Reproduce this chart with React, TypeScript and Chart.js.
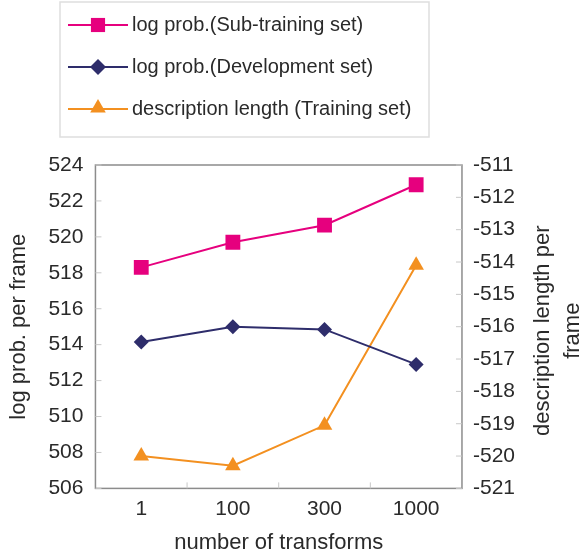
import { useEffect, useRef } from "react"
import { Chart, registerables } from "chart.js"

Chart.register(...registerables)

const transforms = ["1", "100", "300", "1000"]
const subTraining = [518.3, 519.7, 520.65, 522.9]
const development = [514.15, 515.0, 514.85, 512.9]
const descLength = [-520.0, -520.3, -519.05, -514.1]

const FONT = "'Liberation Sans', Arial, sans-serif"
const TEXT = "#2a2a2a"

const legendItems = [
  { label: "log prob.(Sub-training set)", color: "#e6007e", style: "rect", r: 10 },
  { label: "log prob.(Development set)", color: "#2e2d6b", style: "rectRot", r: 8 },
  { label: "description length (Training set)", color: "#f39020", style: "triangle", r: 9 },
]

function drawMarker(ctx: CanvasRenderingContext2D, style: string, x: number, y: number, r: number, color: string) {
  ctx.save()
  ctx.fillStyle = color
  ctx.beginPath()
  if (style === "rect") {
    const s = r * Math.SQRT1_2
    ctx.rect(x - s, y - s, 2 * s, 2 * s)
  } else if (style === "rectRot") {
    ctx.moveTo(x - r, y)
    ctx.lineTo(x, y - r)
    ctx.lineTo(x + r, y)
    ctx.lineTo(x, y + r)
    ctx.closePath()
  } else {
    let rad = 0
    ctx.moveTo(x + Math.sin(rad) * r, y - Math.cos(rad) * r)
    rad += (2 * Math.PI) / 3
    ctx.lineTo(x + Math.sin(rad) * r, y - Math.cos(rad) * r)
    rad += (2 * Math.PI) / 3
    ctx.lineTo(x + Math.sin(rad) * r, y - Math.cos(rad) * r)
    ctx.closePath()
  }
  ctx.fill()
  ctx.restore()
}

const framePlugin = {
  id: "frame",
  beforeDatasetsDraw(chart: any) {
    const { ctx, chartArea: a, scales } = chart
    ctx.save()
    ctx.strokeStyle = "#8c8c8c"
    ctx.lineWidth = 1.5
    ctx.strokeRect(a.left, a.top, a.right - a.left, a.bottom - a.top)
    ctx.strokeStyle = "#c8c8c8"
    ctx.lineWidth = 1
    // small tick marks pointing into the plot
    scales.y.ticks.forEach((t: any) => {
      const py = scales.y.getPixelForValue(t.value)
      ctx.beginPath()
      ctx.moveTo(a.left, py)
      ctx.lineTo(a.left + 6, py)
      ctx.stroke()
    })
    scales.y2.ticks.forEach((t: any) => {
      const py = scales.y2.getPixelForValue(t.value)
      ctx.beginPath()
      ctx.moveTo(a.right, py)
      ctx.lineTo(a.right - 6, py)
      ctx.stroke()
    })
    for (let i = 1; i < transforms.length; i++) {
      const px = (scales.x.getPixelForValue(i - 1) + scales.x.getPixelForValue(i)) / 2
      ctx.beginPath()
      ctx.moveTo(px, a.bottom)
      ctx.lineTo(px, a.bottom - 6)
      ctx.stroke()
    }
    ctx.restore()
  },
  afterDraw(chart: any) {
    const { ctx, chartArea: a } = chart
    ctx.save()
    // right axis title, reads bottom to top
    ctx.fillStyle = TEXT
    ctx.font = `22px ${FONT}`
    ctx.textAlign = "center"
    ctx.textBaseline = "middle"
    ctx.translate(543, (a.top + a.bottom) / 2 + 4)
    ctx.rotate(-Math.PI / 2)
    ctx.fillText("description length per", 0, 0)
    ctx.fillText("frame", 0, 30)
    ctx.restore()

    // legend box
    ctx.save()
    ctx.fillStyle = "#ffffff"
    ctx.strokeStyle = "#dedede"
    ctx.lineWidth = 1.5
    ctx.fillRect(60, 2, 369, 135)
    ctx.strokeRect(60, 2, 369, 135)
    legendItems.forEach((it, i) => {
      const y = 25 + i * 42
      ctx.strokeStyle = it.color
      ctx.lineWidth = 2
      ctx.beginPath()
      ctx.moveTo(68, y)
      ctx.lineTo(128, y)
      ctx.stroke()
      drawMarker(ctx, it.style, 98, it.style === "triangle" ? y - 1 : y, it.r, it.color)
      ctx.fillStyle = TEXT
      ctx.font = `20px ${FONT}`
      ctx.textAlign = "left"
      ctx.textBaseline = "middle"
      ctx.fillText(it.label, 132, y)
    })
    ctx.restore()
  },
}

export default function App() {
  const canvasRef = useRef<HTMLCanvasElement>(null)
  const chartRef = useRef<Chart | null>(null)

  useEffect(() => {
    if (!canvasRef.current) return
    const ctx = canvasRef.current.getContext("2d")
    if (!ctx) return
    if (chartRef.current) chartRef.current.destroy()

    const tickFont = { family: FONT, size: 21 }
    const titleFont = { family: FONT, size: 22 }

    chartRef.current = new Chart(ctx, {
      type: "line",
      data: {
        labels: transforms,
        datasets: [
          {
            label: legendItems[0].label,
            data: subTraining,
            yAxisID: "y",
            borderColor: "#e6007e",
            backgroundColor: "#e6007e",
            borderWidth: 2,
            pointStyle: "rect",
            pointRadius: 10.5,
            pointBorderWidth: 0,
          },
          {
            label: legendItems[1].label,
            data: development,
            yAxisID: "y",
            borderColor: "#2e2d6b",
            backgroundColor: "#2e2d6b",
            borderWidth: 2,
            pointStyle: "rectRot",
            pointRadius: 7.5,
            pointBorderWidth: 0,
          },
          {
            label: legendItems[2].label,
            data: descLength,
            yAxisID: "y2",
            borderColor: "#f39020",
            backgroundColor: "#f39020",
            borderWidth: 2,
            pointStyle: "triangle",
            pointRadius: 9,
            pointBorderWidth: 0,
          },
        ],
      },
      options: {
        animation: false,
        responsive: false,
        maintainAspectRatio: false,
        layout: { padding: { top: 165, left: 4, right: 57, bottom: 2 } },
        plugins: {
          legend: { display: false },
          tooltip: { enabled: false },
        },
        scales: {
          x: {
            offset: true,
            grid: { display: false, drawTicks: false },
            border: { display: false },
            ticks: { color: TEXT, font: tickFont, padding: 8 },
            title: {
              display: true,
              text: "number of transforms",
              color: TEXT,
              font: titleFont,
              padding: { top: 0, bottom: 0 },
            },
          },
          y: {
            position: "left",
            min: 506,
            max: 524,
            grid: { display: false, drawTicks: false },
            border: { display: false },
            ticks: { stepSize: 2, color: TEXT, font: tickFont, padding: 12 },
            title: {
              display: true,
              text: "log prob. per frame",
              color: TEXT,
              font: titleFont,
              padding: { top: 2, bottom: 4 },
            },
          },
          y2: {
            position: "right",
            min: -521,
            max: -511,
            grid: { display: false, drawTicks: false },
            border: { display: false },
            ticks: { stepSize: 1, color: TEXT, font: tickFont, padding: 11 },
          },
        },
      },
      plugins: [framePlugin],
    })

    return () => {
      if (chartRef.current) {
        chartRef.current.destroy()
        chartRef.current = null
      }
    }
  }, [])

  return (
    <div style={{ position: "absolute", left: 0, top: 0, width: 583, height: 558, background: "#fff" }}>
      <canvas ref={canvasRef} width={583} height={558} style={{ width: 583, height: 558 }}></canvas>
    </div>
  )
}
